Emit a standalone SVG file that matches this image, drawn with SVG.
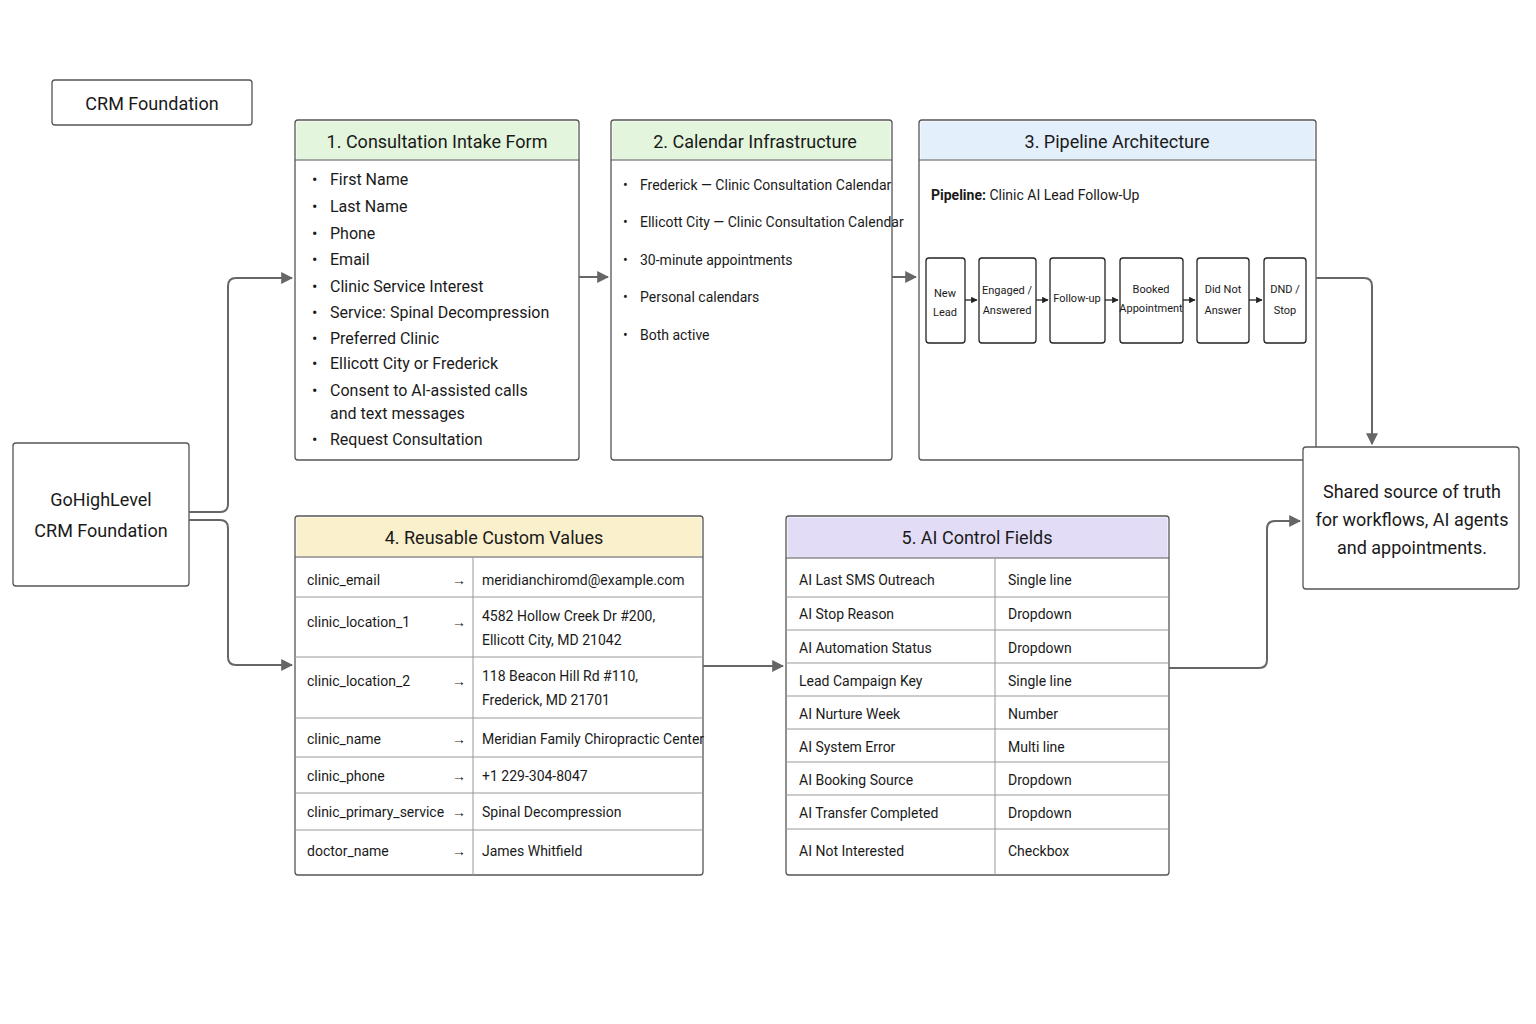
<svg xmlns="http://www.w3.org/2000/svg" width="1536" height="1024" viewBox="0 0 1536 1024">
<style>
text{font-family:Roboto,"Liberation Sans",sans-serif;fill:#1a1a1a}
.box{fill:#fff;stroke:#555;stroke-width:1.3}
.h{font-size:18px;text-anchor:middle}
.li{font-size:16px}
.li2{font-size:14px}
.t{font-size:14px}
.sm{font-size:11px;text-anchor:middle}
.rl{stroke:#999;stroke-width:1}
.con{fill:none;stroke:#666;stroke-width:2}
.sa{fill:none;stroke:#222;stroke-width:1.3}
</style>
<defs>
<marker id="a" viewBox="0 0 10 10" refX="9" refY="5" markerWidth="6" markerHeight="6" orient="auto"><path d="M0,0L10,5L0,10z" fill="#666"/></marker>
<marker id="b" viewBox="0 0 10 10" refX="9" refY="5" markerWidth="5" markerHeight="5" orient="auto"><path d="M0,0L10,5L0,10z" fill="#222"/></marker>
</defs>
<rect width="1536" height="1024" fill="#fff"/>
<g id="title"><rect class="box" x="52" y="80" width="200" height="45" rx="3"/><text x="152" y="110" class="h">CRM Foundation</text></g>
<g id="ghl"><rect class="box" x="13" y="443" width="176" height="143" rx="3"/><text x="101" y="506" class="h" font-size="20">GoHighLevel</text><text x="101" y="537" class="h" font-size="20">CRM Foundation</text></g>
<g id="n1"><rect class="box" x="295" y="120" width="284" height="340" rx="3"/><path d="M296.5 121.5h281v38h-281z" fill="#e3f5dc"/><line x1="295" y1="160" x2="579" y2="160" stroke="#555"/>
<text x="437" y="148" class="h">1.  Consultation Intake Form</text>
<g class="li"><text x="312" y="185">•</text><text x="330" y="185">First Name</text>
<text x="312" y="212">•</text><text x="330" y="212">Last Name</text>
<text x="312" y="239">•</text><text x="330" y="239">Phone</text>
<text x="312" y="265">•</text><text x="330" y="265">Email</text>
<text x="312" y="292">•</text><text x="330" y="292">Clinic Service Interest</text>
<text x="312" y="318">•</text><text x="330" y="318">Service: Spinal Decompression</text>
<text x="312" y="344">•</text><text x="330" y="344">Preferred Clinic</text>
<text x="312" y="369">•</text><text x="330" y="369">Ellicott City or Frederick</text>
<text x="312" y="396">•</text><text x="330" y="396">Consent to AI-assisted calls</text>
<text x="330" y="419">and text messages</text>
<text x="312" y="445">•</text><text x="330" y="445">Request Consultation</text></g></g>
<g id="n2"><rect class="box" x="611" y="120" width="281" height="340" rx="3"/><path d="M612.5 121.5h278v38h-278z" fill="#e3f5dc"/><line x1="611" y1="160" x2="892" y2="160" stroke="#555"/>
<text x="755" y="148" class="h">2. Calendar Infrastructure</text>
<g class="li2"><text x="623" y="190">•</text><text x="640" y="190">Frederick — Clinic Consultation Calendar</text>
<text x="623" y="227">•</text><text x="640" y="227">Ellicott City — Clinic Consultation Calendar</text>
<text x="623" y="265">•</text><text x="640" y="265">30-minute appointments</text>
<text x="623" y="302">•</text><text x="640" y="302">Personal calendars</text>
<text x="623" y="340">•</text><text x="640" y="340">Both active</text></g></g>
<g id="n3"><rect class="box" x="919" y="120" width="397" height="340" rx="3"/><path d="M920.5 121.5h394v38h-394z" fill="#e3effb"/><line x1="919" y1="160" x2="1316" y2="160" stroke="#555"/>
<text x="1117" y="148" class="h">3. Pipeline Architecture</text>
<text x="931" y="200" class="li2"><tspan font-weight="bold">Pipeline:</tspan> Clinic AI Lead Follow-Up</text>
<g class="sa"><rect x="926" y="258" width="39" height="85" rx="3"/><rect x="979" y="258" width="57" height="85" rx="3"/><rect x="1050" y="258" width="55" height="85" rx="3"/><rect x="1120" y="258" width="63" height="85" rx="3"/><rect x="1197" y="258" width="52" height="85" rx="3"/><rect x="1264" y="258" width="42" height="85" rx="3"/>
<path d="M965 300h12" marker-end="url(#b)"/><path d="M1036 300h12" marker-end="url(#b)"/><path d="M1105 300h13" marker-end="url(#b)"/><path d="M1183 300h12" marker-end="url(#b)"/><path d="M1249 300h13" marker-end="url(#b)"/></g>
<g class="sm"><text x="945" y="297">New</text><text x="945" y="316">Lead</text>
<text x="1007" y="294">Engaged /</text><text x="1007" y="314">Answered</text>
<text x="1077" y="302">Follow-up</text>
<text x="1151" y="293">Booked</text><text x="1151" y="312">Appointment</text>
<text x="1223" y="293">Did Not</text><text x="1223" y="314">Answer</text>
<text x="1285" y="293">DND /</text><text x="1285" y="314">Stop</text></g></g>
<g id="n4"><rect class="box" x="295" y="516" width="408" height="359" rx="3"/><path d="M296.5 517.5h405v39h-405z" fill="#fbf0cc"/><line x1="295" y1="557" x2="703" y2="557" stroke="#555"/>
<text x="494" y="544" class="h">4.  Reusable Custom Values</text>
<g class="rl"><line x1="473" y1="557" x2="473" y2="875"/><line x1="295" y1="597" x2="703" y2="597"/><line x1="295" y1="657" x2="703" y2="657"/><line x1="295" y1="718" x2="703" y2="718"/><line x1="295" y1="757" x2="703" y2="757"/><line x1="295" y1="793" x2="703" y2="793"/><line x1="295" y1="830" x2="703" y2="830"/></g>
<g class="t"><text x="307" y="585">clinic_email</text><text x="452" y="585">→</text><text x="482" y="585">meridianchiromd@example.com</text>
<text x="307" y="627">clinic_location_1</text><text x="452" y="627">→</text><text x="482" y="621">4582 Hollow Creek Dr #200,</text><text x="482" y="645">Ellicott City, MD 21042</text>
<text x="307" y="686">clinic_location_2</text><text x="452" y="686">→</text><text x="482" y="681">118 Beacon Hill Rd #110,</text><text x="482" y="705">Frederick, MD 21701</text>
<text x="307" y="744">clinic_name</text><text x="452" y="744">→</text><text x="482" y="744">Meridian Family Chiropractic Center</text>
<text x="307" y="781">clinic_phone</text><text x="452" y="781">→</text><text x="482" y="781">+1 229-304-8047</text>
<text x="307" y="817">clinic_primary_service</text><text x="452" y="817">→</text><text x="482" y="817">Spinal Decompression</text>
<text x="307" y="856">doctor_name</text><text x="452" y="856">→</text><text x="482" y="856">James Whitfield</text></g></g>
<g id="n5"><rect class="box" x="786" y="516" width="383" height="359" rx="3"/><path d="M787.5 517.5h380v40h-380z" fill="#e2dcf7"/><line x1="786" y1="558" x2="1169" y2="558" stroke="#555"/>
<text x="977" y="544" class="h">5.  AI  Control Fields</text>
<g class="rl"><line x1="995" y1="558" x2="995" y2="875"/><line x1="786" y1="597" x2="1169" y2="597"/><line x1="786" y1="630" x2="1169" y2="630"/><line x1="786" y1="663" x2="1169" y2="663"/><line x1="786" y1="696" x2="1169" y2="696"/><line x1="786" y1="729" x2="1169" y2="729"/><line x1="786" y1="762" x2="1169" y2="762"/><line x1="786" y1="795" x2="1169" y2="795"/><line x1="786" y1="829" x2="1169" y2="829"/></g>
<g class="t"><text x="799" y="585">AI Last SMS Outreach</text><text x="1008" y="585">Single line</text>
<text x="799" y="619">AI Stop Reason</text><text x="1008" y="619">Dropdown</text>
<text x="799" y="653">AI Automation Status</text><text x="1008" y="653">Dropdown</text>
<text x="799" y="686">Lead Campaign Key</text><text x="1008" y="686">Single line</text>
<text x="799" y="719">AI Nurture Week</text><text x="1008" y="719">Number</text>
<text x="799" y="752">AI System Error</text><text x="1008" y="752">Multi line</text>
<text x="799" y="785">AI Booking Source</text><text x="1008" y="785">Dropdown</text>
<text x="799" y="818">AI Transfer Completed</text><text x="1008" y="818">Dropdown</text>
<text x="799" y="856">AI Not Interested</text><text x="1008" y="856">Checkbox</text></g></g>
<g id="truth"><rect class="box" x="1303" y="447" width="216" height="142" rx="3"/>
<text x="1412" y="498" class="h">Shared source of truth</text><text x="1412" y="526" class="h">for workflows, AI agents</text><text x="1412" y="554" class="h">and appointments.</text></g>
<g id="connectors" class="con">
<path d="M189 512H220Q228 512 228 504V286Q228 278 236 278H292" marker-end="url(#a)"/>
<path d="M189 520H220Q228 520 228 528V657Q228 665 236 665H292" marker-end="url(#a)"/>
<path d="M579 277H608" marker-end="url(#a)"/>
<path d="M892 277H916" marker-end="url(#a)"/>
<path d="M1316 278H1364Q1372 278 1372 286V444" marker-end="url(#a)"/>
<path d="M703 666H783" marker-end="url(#a)"/>
<path d="M1169 668H1259Q1267 668 1267 660V529Q1267 521 1275 521H1300" marker-end="url(#a)"/>
</g>
</svg>
